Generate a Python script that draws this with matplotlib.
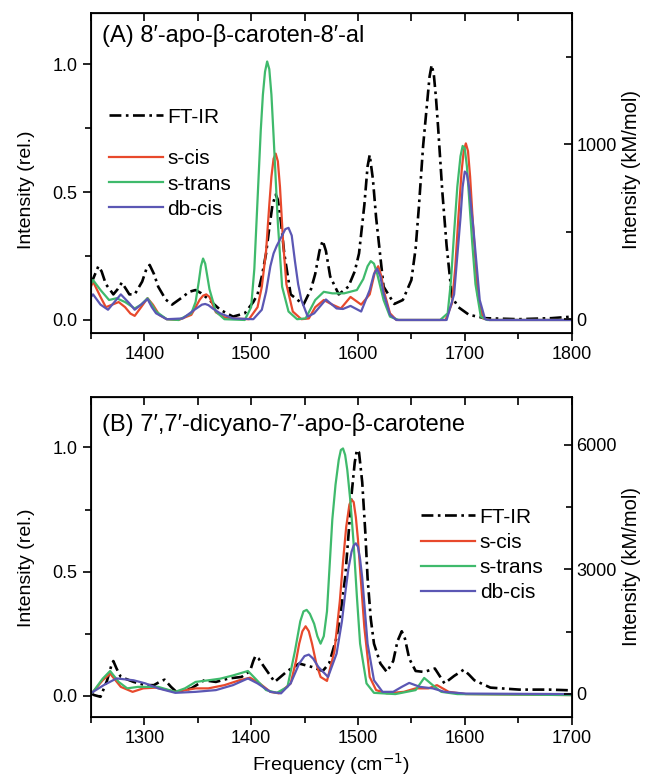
import matplotlib
matplotlib.use("Agg")
import matplotlib.pyplot as plt

plt.rcParams['font.family'] = ['Liberation Sans', 'DejaVu Sans']

# ---- panel A: 8'-apo-beta-caroten-8'-al (freq in cm-1, rel. intensity)
a_ir_f = [1350, 1353, 1357, 1360, 1364, 1371, 1375, 1379, 1383, 1386, 1391, 1398, 1402, 1405,
          1409, 1413, 1420, 1426, 1436, 1442, 1448, 1453, 1459, 1471, 1483, 1494, 1502, 1506,
          1510, 1514, 1517, 1520, 1523, 1525, 1528, 1531, 1537, 1549, 1556, 1560, 1564, 1567,
          1570, 1574, 1582, 1591, 1597, 1601, 1606, 1609, 1611, 1614, 1617, 1624, 1634, 1642,
          1650, 1654, 1657, 1661, 1665, 1667, 1669, 1671, 1673, 1675, 1679, 1683, 1688, 1694,
          1704, 1719, 1750, 1781, 1800]
a_ir_v = [0.14, 0.17, 0.21, 0.19, 0.14, 0.10, 0.12, 0.146, 0.12, 0.10, 0.10, 0.15, 0.20, 0.215,
          0.18, 0.13, 0.08, 0.06, 0.09, 0.11, 0.117, 0.105, 0.085, 0.04, 0.013, 0.026, 0.07, 0.10,
          0.17, 0.26, 0.36, 0.45, 0.49, 0.47, 0.38, 0.26, 0.10, 0.06, 0.12, 0.18, 0.27, 0.31,
          0.27, 0.17, 0.10, 0.13, 0.19, 0.26, 0.45, 0.60, 0.645, 0.55, 0.40, 0.13, 0.0625, 0.078,
          0.156, 0.28, 0.44, 0.68, 0.86, 0.95, 0.996, 0.96, 0.87, 0.755, 0.50, 0.29, 0.09, 0.05,
          0.02, 0.007, 0.003, 0.007, 0.013]

a_cis_f = [1350, 1352, 1359, 1364, 1370, 1376, 1382, 1387, 1391, 1397, 1403, 1408, 1414, 1421,
           1432, 1444, 1452, 1455, 1458, 1461, 1463, 1467, 1475, 1483, 1498, 1506, 1510, 1514,
           1517, 1519, 1521, 1523, 1525, 1527, 1530, 1533, 1539, 1547, 1554, 1560, 1568, 1576,
           1584, 1593, 1603, 1611, 1616, 1619, 1622, 1624, 1630, 1636, 1682, 1688, 1691, 1694,
           1697, 1699, 1701, 1703, 1705, 1707, 1712, 1717, 1723, 1800]
a_cis_v = [0.13, 0.15, 0.09, 0.05, 0.06, 0.07, 0.05, 0.025, 0.016, 0.05, 0.085, 0.06, 0.02, 0.003,
           0.0, 0.02, 0.08, 0.095, 0.10, 0.09, 0.07, 0.03, 0.01, 0.006, 0.003, 0.05, 0.13, 0.27,
           0.45, 0.56, 0.63, 0.65, 0.62, 0.52, 0.30, 0.14, 0.033, 0.003, 0.006, 0.05, 0.078, 0.06,
           0.045, 0.09, 0.06, 0.10, 0.19, 0.21, 0.17, 0.117, 0.026, 0.0, 0.0, 0.065, 0.20, 0.40,
           0.58, 0.66, 0.69, 0.66, 0.56, 0.42, 0.10, 0.006, 0.0, 0.0]

a_trans_f = [1350, 1352, 1359, 1367, 1374, 1382, 1391, 1397, 1403, 1407, 1411, 1421, 1432, 1444,
             1448, 1451, 1453, 1455, 1457, 1459, 1461, 1467, 1475, 1494, 1500, 1503, 1506, 1509,
             1511, 1513, 1515, 1517, 1519, 1521, 1523, 1525, 1529, 1535, 1543, 1551, 1560, 1568,
             1576, 1587, 1599, 1605, 1609, 1612, 1615, 1618, 1624, 1630, 1638, 1677, 1684, 1687,
             1690, 1693, 1696, 1698, 1700, 1702, 1704, 1707, 1710, 1715, 1721, 1800]
a_trans_v = [0.14, 0.156, 0.117, 0.078, 0.085, 0.07, 0.045, 0.06, 0.085, 0.06, 0.033, 0.003, 0.0,
             0.026, 0.07, 0.15, 0.21, 0.24, 0.22, 0.17, 0.12, 0.033, 0.003, 0.0, 0.05, 0.20, 0.47,
             0.74, 0.88, 0.97, 1.01, 0.98, 0.88, 0.72, 0.55, 0.38, 0.13, 0.033, 0.003, 0.006,
             0.078, 0.11, 0.104, 0.104, 0.117, 0.16, 0.21, 0.23, 0.22, 0.18, 0.078, 0.013, 0.0, 0.0,
             0.026, 0.15, 0.34, 0.52, 0.64, 0.68, 0.67, 0.60, 0.48, 0.30, 0.14, 0.013, 0.0, 0.0]

a_db_f = [1350, 1352, 1359, 1366, 1372, 1378, 1386, 1391, 1397, 1403, 1407, 1411, 1421, 1436,
          1447, 1454, 1457, 1460, 1464, 1471, 1483, 1502, 1510, 1514, 1518, 1521, 1524, 1529,
          1532, 1535, 1538, 1541, 1544, 1547, 1553, 1559, 1570, 1580, 1586, 1593, 1603, 1611,
          1615, 1618, 1621, 1624, 1630, 1636, 1683, 1690, 1693, 1696, 1698, 1700, 1702, 1704,
          1708, 1714, 1719, 1723, 1800]
a_db_v = [0.09, 0.10, 0.06, 0.04, 0.07, 0.10, 0.065, 0.04, 0.06, 0.082, 0.05, 0.026, 0.003, 0.006,
          0.04, 0.06, 0.0625, 0.058, 0.045, 0.026, 0.006, 0.003, 0.04, 0.11, 0.21, 0.26, 0.29,
          0.33, 0.355, 0.36, 0.33, 0.23, 0.14, 0.078, 0.013, 0.026, 0.08, 0.045, 0.043, 0.055,
          0.033, 0.117, 0.18, 0.20, 0.17, 0.104, 0.02, 0.0, 0.0, 0.10, 0.25, 0.40, 0.52, 0.58,
          0.57, 0.52, 0.36, 0.078, 0.003, 0.0, 0.0]

# ---- panel B: 7',7'-dicyano-7'-apo-beta-carotene
b_ir_f = [1250, 1253, 1259, 1265, 1269, 1271, 1274, 1278, 1290, 1301, 1309, 1315, 1319, 1325,
          1330, 1344, 1356, 1367, 1379, 1391, 1399, 1402, 1404, 1407, 1410, 1422, 1434, 1445,
          1457, 1467, 1473, 1480, 1484, 1488, 1491, 1494, 1497, 1499, 1501, 1504, 1507, 1509,
          1512, 1515, 1521, 1527, 1533, 1537, 1541, 1544, 1548, 1554, 1562, 1572, 1581, 1590,
          1599, 1604, 1609, 1624, 1651, 1679, 1700]
b_ir_v = [0.01, 0.003, -0.004, 0.06, 0.12, 0.14, 0.11, 0.076, 0.056, 0.043, 0.043, 0.058, 0.065,
          0.036, 0.016, 0.03, 0.0625, 0.056, 0.07, 0.076, 0.10, 0.14, 0.16, 0.15, 0.13, 0.056,
          0.10, 0.13, 0.116, 0.10, 0.13, 0.235, 0.34, 0.475, 0.64, 0.81, 0.94, 0.99, 0.98, 0.86,
          0.65, 0.475, 0.31, 0.21, 0.13, 0.096, 0.14, 0.22, 0.26, 0.23, 0.15, 0.10, 0.096, 0.11,
          0.05, 0.08, 0.105, 0.085, 0.0625, 0.033, 0.025, 0.025, 0.022]

b_cis_f = [1250, 1252, 1261, 1268, 1278, 1289, 1299, 1311, 1329, 1348, 1360, 1375, 1389, 1399,
           1408, 1418, 1426, 1437, 1442, 1445, 1448, 1451, 1454, 1457, 1461, 1465, 1471, 1478,
           1483, 1486, 1489, 1492, 1494, 1496, 1498, 1500, 1503, 1506, 1511, 1517, 1527, 1543,
           1554, 1566, 1574, 1585, 1601, 1700]
b_cis_v = [0.01, 0.016, 0.0625, 0.089, 0.036, 0.016, 0.03, 0.033, 0.016, 0.03, 0.03, 0.043,
           0.0625, 0.073, 0.05, 0.016, 0.01, 0.05, 0.14, 0.21, 0.26, 0.28, 0.26, 0.21, 0.13,
           0.076, 0.06, 0.18, 0.38, 0.54, 0.68, 0.77, 0.79, 0.78, 0.72, 0.63, 0.45, 0.275, 0.076,
           0.023, 0.01, 0.016, 0.03, 0.03, 0.043, 0.016, 0.007, 0.003]

b_trans_f = [1250, 1252, 1261, 1268, 1276, 1284, 1294, 1303, 1313, 1329, 1338, 1348, 1360, 1371,
             1383, 1397, 1404, 1414, 1424, 1434, 1441, 1446, 1449, 1452, 1455, 1459, 1462, 1465,
             1468, 1471, 1476, 1479, 1482, 1484, 1486, 1488, 1490, 1493, 1496, 1499, 1502, 1508,
             1515, 1535, 1554, 1562, 1570, 1578, 1593, 1700]
b_trans_v = [0.01, 0.016, 0.069, 0.10, 0.056, 0.03, 0.036, 0.036, 0.036, 0.016, 0.03, 0.056,
             0.0625, 0.069, 0.082, 0.10, 0.069, 0.023, 0.012, 0.036, 0.18, 0.30, 0.34, 0.346,
             0.33, 0.29, 0.24, 0.21, 0.24, 0.34, 0.71, 0.85, 0.95, 0.99, 0.996, 0.97, 0.91, 0.78,
             0.61, 0.40, 0.21, 0.05, 0.012, 0.007, 0.023, 0.072, 0.043, 0.016, 0.007, 0.003]

b_db_f = [1250, 1252, 1262, 1274, 1290, 1301, 1313, 1329, 1348, 1367, 1383, 1397, 1406, 1418,
          1428, 1437, 1445, 1450, 1454, 1458, 1463, 1472, 1480, 1485, 1488, 1491, 1494, 1496,
          1498, 1500, 1502, 1504, 1509, 1515, 1523, 1533, 1541, 1548, 1558, 1570, 1581, 1601,
          1700]
b_db_v = [0.01, 0.016, 0.043, 0.07, 0.0625, 0.05, 0.03, 0.012, 0.016, 0.023, 0.043, 0.07, 0.05,
          0.016, 0.01, 0.05, 0.13, 0.16, 0.166, 0.15, 0.116, 0.076, 0.17, 0.30, 0.41, 0.51, 0.58,
          0.605, 0.614, 0.60, 0.55, 0.475, 0.21, 0.0625, 0.016, 0.016, 0.036, 0.052, 0.036, 0.03,
          0.016, 0.009, 0.007]

labels = ["FT-IR", "s-cis", "s-trans", "db-cis"]
colors = ["black", "#e8492c", "#3fba6c", "#5b57b4"]
dashdot = (0, (4.5, 1.7, 1, 1.7))

fig = plt.figure(figsize=(6.54, 7.79), dpi=100)
axA = fig.add_axes([0.139, 0.5725, 0.735, 0.411])
axB = fig.add_axes([0.139, 0.0800, 0.735, 0.4103])


def draw(ax, ir, cis, trans, db):
    h = []
    h += ax.plot(ir[0], ir[1], color=colors[0], lw=1.9, linestyle=dashdot)
    h += ax.plot(cis[0], cis[1], color=colors[1], lw=1.6)
    h += ax.plot(trans[0], trans[1], color=colors[2], lw=1.6)
    h += ax.plot(db[0], db[1], color=colors[3], lw=1.6)
    return h


def style(ax, xlim, ylim, rlim, rmajor, rminor, lab_y, rlab_y):
    ax.set_xlim(*xlim)
    ax.set_ylim(*ylim)
    ax.set_yticks([0.0, 0.5, 1.0])
    ax.set_yticks([0.25, 0.75], minor=True)
    ax.set_yticklabels(["0.0", "0.5", "1.0"])
    ax.set_xticks(range(xlim[0] + 50, xlim[1] + 1, 100))
    ax.set_xticks(range(xlim[0], xlim[1] + 1, 50), minor=True)
    ax.tick_params(axis="both", which="both", direction="out", labelsize=13, width=1.2)
    ax.tick_params(which="major", length=6)
    ax.tick_params(which="minor", length=4)
    ax.set_ylabel("Intensity (rel.)", fontsize=14)
    ax.yaxis.set_label_coords(-0.117, lab_y)
    for s in ax.spines.values():
        s.set_linewidth(1.3)
    top = ax.secondary_xaxis("top")
    top.set_xticks(range(xlim[0], xlim[1] + 1, 50))
    top.tick_params(direction="in", length=6, width=1.2)
    top.set_xticklabels([])
    r = ax.twinx()
    r.set_ylim(*rlim)
    r.set_yticks(rmajor)
    r.set_yticks(rminor, minor=True)
    r.tick_params(which="both", direction="in", labelsize=13, width=1.2)
    r.tick_params(which="major", length=6)
    r.tick_params(which="minor", length=4)
    r.set_ylabel("Intensity (kM/mol)", fontsize=14.5)
    r.yaxis.set_label_coords(1.105, rlab_y)
    return r


hA = draw(axA, (a_ir_f, a_ir_v), (a_cis_f, a_cis_v), (a_trans_f, a_trans_v), (a_db_f, a_db_v))
style(axA, (1350, 1800), (-0.051, 1.2), (-80, 1750), [0, 1000], [500, 1500], 0.447, 0.51)
axA.text(0.023, 0.93, "(A) 8\u2032-apo-\u03b2-caroten-8\u2032-al", transform=axA.transAxes,
         fontsize=17, va="center", ha="left")
legA1 = axA.legend(hA[:1], labels[:1], loc="upper left", bbox_to_anchor=(0.02, 0.73),
                   frameon=False, fontsize=15, handlelength=2.6, handletextpad=0.2,
                   borderaxespad=0)
axA.add_artist(legA1)
axA.legend(hA[1:], labels[1:], loc="upper left", bbox_to_anchor=(0.02, 0.60),
           frameon=False, fontsize=15, handlelength=2.6, handletextpad=0.2,
           labelspacing=0.3, borderaxespad=0)

hB = draw(axB, (b_ir_f, b_ir_v), (b_cis_f, b_cis_v), (b_trans_f, b_trans_v), (b_db_f, b_db_v))
style(axB, (1250, 1700), (-0.084, 1.203), (-548, 7143), [0, 3000, 6000], [1500, 4500], 0.467, 0.47)
axB.text(0.023, 0.913, "(B) 7\u2032,7\u2032-dicyano-7\u2032-apo-\u03b2-carotene", transform=axB.transAxes,
         fontsize=17, va="center", ha="left")
axB.legend(hB, labels, loc="upper left", bbox_to_anchor=(0.67, 0.68),
           frameon=False, fontsize=15, handlelength=2.6, handletextpad=0.2,
           labelspacing=0.3, borderaxespad=0)
axB.set_xlabel("Frequency (cm$^{-1}$)", fontsize=14, labelpad=3)

fig.savefig("out.png", dpi=100)
